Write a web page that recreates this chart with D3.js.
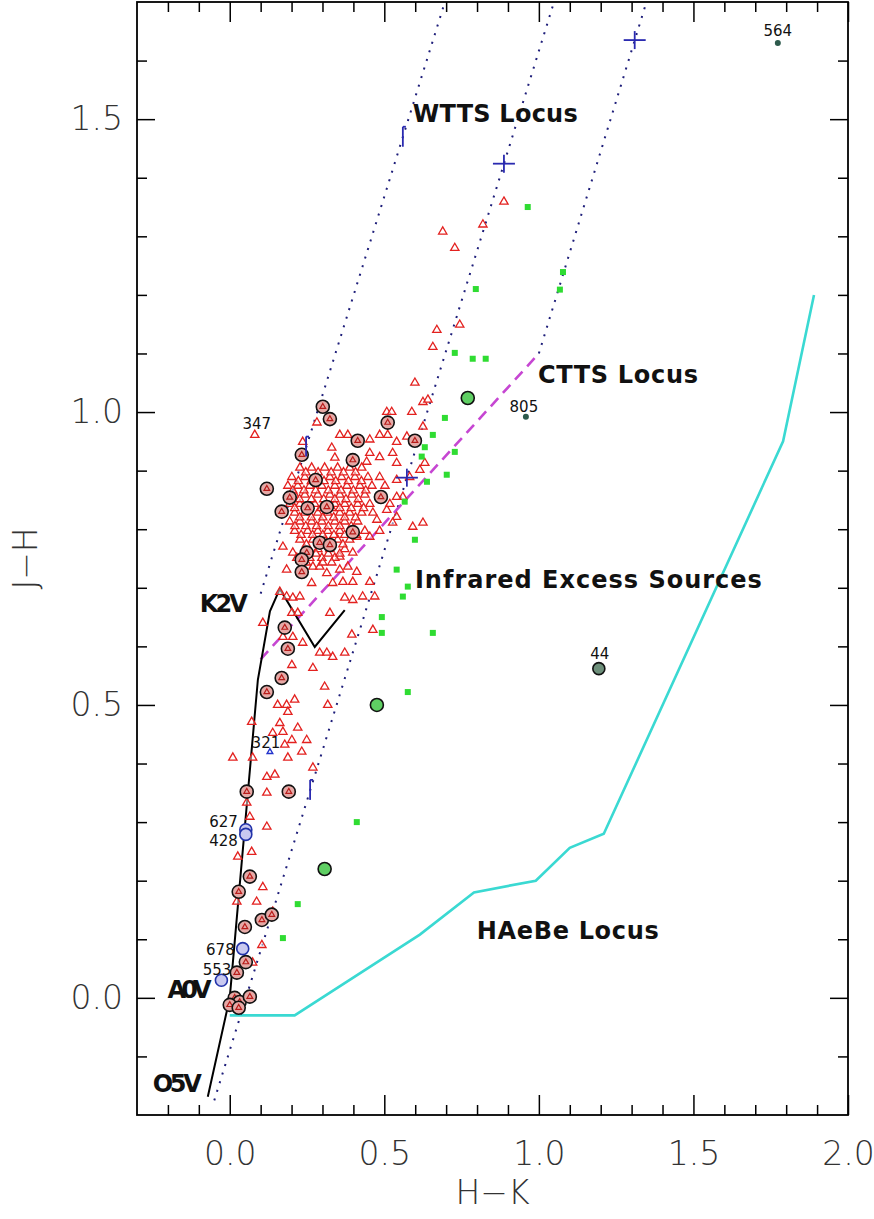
<!DOCTYPE html>
<html>
<head>
<meta charset="utf-8">
<script src="https://cdn.jsdelivr.net/npm/d3@7"></script>
<style>
  body { margin: 0; background: #fff; }
  svg { display: block; }
</style>
</head>
<body>
<svg id="chart" width="874" height="1219"></svg>
<script>
// ---- data (H-K, J-H) ----
const xMajor = [0.0, 0.5, 1.0, 1.5, 2.0];
const yMajor = [0.0, 0.5, 1.0, 1.5];

// intrinsic dwarf sequence, O5V -> A0V -> K2V -> M
const mainSequence = [[-0.071, -0.169], [0.0, 0.0], [0.091, 0.543], [0.13, 0.66],
    [0.162, 0.698], [0.275, 0.599], [0.372, 0.662]];
const cttsLocus = [[0.10, 0.578], [1.0, 1.10]];
const haebeLocus = [[0.0, -0.03], [0.21, -0.03], [0.615, 0.108], [0.79, 0.18], [0.99, 0.20],
    [1.10, 0.256], [1.21, 0.28], [1.79, 0.95], [1.89, 1.20]];
// reddening vectors (start, end)
const reddeningLines = [
    [[0.10, 0.69], [0.696, 1.70]],
    [[-0.05, -0.175], [1.049, 1.70]],
    [[1.0, 1.10], [1.348, 1.70]]
];
const reddeningMarks = [
    {x: 0.247, y: 0.941, kind: "bar"}, {x: 0.56, y: 1.47, kind: "bar"},
    {x: 0.26, y: 0.355, kind: "bar"}, {x: 0.573, y: 0.888, kind: "plus"},
    {x: 0.887, y: 1.424, kind: "plus"}, {x: 1.31, y: 1.635, kind: "plus"}
];

// PMS candidates (red triangles)
const ysoTriangles = [
    [0.887, 1.359], [0.819, 1.320], [0.689, 1.308], [0.728, 1.280], [0.744, 1.149], [0.670, 1.140],
    [0.657, 1.111], [0.599, 1.050], [0.625, 1.017], [0.641, 1.021], [0.508, 1.000], [0.524, 1.000],
    [0.589, 1.000], [0.573, 0.958], [0.081, 0.961], [0.282, 0.982], [0.236, 0.949], [0.356, 0.961],
    [0.382, 0.961], [0.453, 0.953], [0.485, 0.961], [0.511, 0.961], [0.540, 0.949], [0.625, 0.975],
    [0.330, 0.939], [0.453, 0.930], [0.485, 0.923], [0.527, 0.930], [0.340, 0.922], [0.443, 0.915],
    [0.540, 0.913], [0.582, 0.889], [0.615, 0.901], [0.631, 0.913], [0.540, 0.884], [0.560, 0.855],
    [0.540, 0.855], [0.540, 0.821], [0.508, 0.833], [0.476, 0.816], [0.592, 0.804], [0.625, 0.811],
    [0.527, 0.811], [0.411, 0.787], [0.453, 0.787], [0.356, 0.753], [0.398, 0.760], [0.172, 0.770],
    [0.204, 0.760], [0.184, 0.731], [0.227, 0.731], [0.265, 0.708], [0.333, 0.708], [0.366, 0.710],
    [0.398, 0.710], [0.453, 0.710], [0.356, 0.731], [0.411, 0.727], [0.314, 0.725], [0.372, 0.683],
    [0.398, 0.679], [0.430, 0.685], [0.469, 0.685], [0.184, 0.685], [0.204, 0.683], [0.227, 0.685],
    [0.162, 0.693], [0.324, 0.657], [0.395, 0.620], [0.463, 0.628], [0.201, 0.657], [0.220, 0.657],
    [0.107, 0.640], [0.204, 0.616], [0.236, 0.606], [0.291, 0.589], [0.314, 0.589], [0.333, 0.582],
    [0.372, 0.589], [0.172, 0.616], [0.201, 0.568], [0.269, 0.563],
    // dense core
    [0.227, 0.905], [0.265, 0.905], [0.307, 0.905], [0.349, 0.905], [0.388, 0.905], [0.427, 0.905],
    [0.201, 0.889], [0.243, 0.889], [0.285, 0.889], [0.324, 0.889], [0.362, 0.889], [0.405, 0.889],
    [0.447, 0.889], [0.485, 0.889],
    [0.188, 0.874], [0.220, 0.874], [0.259, 0.874], [0.298, 0.874], [0.340, 0.874], [0.379, 0.874],
    [0.421, 0.874], [0.460, 0.874], [0.502, 0.874],
    [0.210, 0.859], [0.243, 0.859], [0.285, 0.859], [0.324, 0.859], [0.356, 0.859], [0.395, 0.859],
    [0.437, 0.859],
    [0.194, 0.843], [0.227, 0.843], [0.275, 0.843], [0.340, 0.843], [0.372, 0.843], [0.414, 0.843],
    [0.453, 0.843], [0.518, 0.843],
    [0.210, 0.828], [0.243, 0.828], [0.285, 0.828], [0.317, 0.828], [0.356, 0.828], [0.388, 0.828],
    [0.427, 0.828], [0.463, 0.828],
    [0.194, 0.813], [0.227, 0.813], [0.265, 0.813], [0.298, 0.813], [0.340, 0.813], [0.372, 0.813],
    [0.414, 0.813],
    [0.210, 0.797], [0.252, 0.797], [0.285, 0.797], [0.317, 0.797], [0.356, 0.797], [0.437, 0.797],
    [0.485, 0.797],
    [0.227, 0.782], [0.269, 0.782], [0.307, 0.782], [0.349, 0.782], [0.388, 0.782],
    [0.243, 0.766], [0.285, 0.766], [0.324, 0.766], [0.372, 0.766],
    [0.217, 0.751], [0.259, 0.751], [0.298, 0.751], [0.340, 0.751],
    [0.269, 0.736], [0.291, 0.736], [0.382, 0.736],
    [0.246, 0.897], [0.286, 0.897], [0.328, 0.897], [0.368, 0.897], [0.407, 0.897],
    [0.222, 0.882], [0.264, 0.882], [0.305, 0.882], [0.343, 0.882], [0.384, 0.882], [0.426, 0.882],
    [0.204, 0.866], [0.240, 0.866], [0.278, 0.866], [0.319, 0.866], [0.360, 0.866], [0.400, 0.866],
    [0.440, 0.866],
    [0.226, 0.851], [0.264, 0.851], [0.304, 0.851], [0.340, 0.851], [0.376, 0.851], [0.416, 0.851],
    [0.210, 0.836], [0.251, 0.836], [0.296, 0.836], [0.330, 0.836], [0.356, 0.836], [0.393, 0.836],
    [0.433, 0.836],
    [0.226, 0.820], [0.264, 0.820], [0.301, 0.820], [0.336, 0.820], [0.372, 0.820], [0.407, 0.820],
    [0.211, 0.805], [0.246, 0.805], [0.281, 0.805], [0.319, 0.805], [0.356, 0.805], [0.393, 0.805],
    [0.231, 0.790], [0.268, 0.790], [0.301, 0.790], [0.337, 0.790], [0.372, 0.790], [0.410, 0.790],
    [0.248, 0.774], [0.288, 0.774], [0.328, 0.774], [0.366, 0.774],
    [0.238, 0.758], [0.279, 0.758], [0.319, 0.758], [0.356, 0.758],
    [0.248, 0.743], [0.301, 0.743], [0.330, 0.743],
    // lower part
    [0.155, 0.500], [0.184, 0.500], [0.210, 0.509], [0.188, 0.488], [0.307, 0.531], [0.317, 0.500],
    [0.071, 0.471], [0.162, 0.469], [0.220, 0.461], [0.139, 0.452], [0.172, 0.454], [0.201, 0.440],
    [0.249, 0.440], [0.178, 0.432], [0.233, 0.420], [0.188, 0.410], [0.010, 0.410], [0.074, 0.410],
    [0.120, 0.377], [0.146, 0.381], [0.269, 0.393], [0.120, 0.350], [0.055, 0.333], [0.065, 0.309],
    [0.120, 0.292], [0.071, 0.249], [0.026, 0.241], [0.107, 0.189], [0.087, 0.164], [0.023, 0.164],
    [0.139, 0.147], [0.104, 0.090], [0.074, 0.060]
];

// circled sources (black rings)
const circled = [
    [0.301, 1.009], [0.324, 0.988], [0.414, 0.951], [0.511, 0.982], [0.599, 0.951], [0.233, 0.927],
    [0.398, 0.918], [0.120, 0.869], [0.278, 0.884], [0.194, 0.854], [0.168, 0.830], [0.252, 0.836],
    [0.314, 0.838], [0.489, 0.855], [0.398, 0.795], [0.291, 0.777], [0.324, 0.773], [0.249, 0.760],
    [0.233, 0.748], [0.233, 0.727], [0.178, 0.632], [0.188, 0.596], [0.168, 0.546], [0.120, 0.522],
    [0.055, 0.352], [0.191, 0.352], [0.065, 0.207], [0.029, 0.181], [0.049, 0.121], [0.104, 0.133],
    [0.136, 0.142], [0.052, 0.061], [0.023, 0.043], [0.016, 0.000], [0.032, -0.007], [0.000, -0.012],
    [0.065, 0.002], [0.029, -0.017]
];

// infrared excess sources (green)
const excessSources = [
    [0.964, 1.350], [1.078, 1.239], [1.068, 1.209], [0.796, 1.210], [0.728, 1.101], [0.786, 1.091],
    [0.828, 1.091], [0.696, 0.990], [0.657, 0.961], [0.631, 0.940], [0.621, 0.924], [0.728, 0.932],
    [0.702, 0.893], [0.638, 0.881], [0.566, 0.847], [0.599, 0.782], [0.540, 0.731], [0.576, 0.702],
    [0.560, 0.685], [0.492, 0.650], [0.492, 0.623], [0.657, 0.623], [0.576, 0.522], [0.411, 0.300],
    [0.220, 0.160], [0.172, 0.102]
];
const excessCircled = [[0.770, 1.024], [0.476, 0.500], [0.307, 0.220]];

// labelled sources
const namedSources = [
    {id: "564", x: 1.773, y: 1.630, kind: "dark"},
    {id: "805", x: 0.958, y: 0.992, kind: "dark"},
    {id: "44", x: 1.194, y: 0.562, kind: "darkRing"},
    {id: "347", x: 0.081, y: 0.961, kind: "none"},
    {id: "321", x: 0.130, y: 0.420, kind: "blueTriangle"},
    {id: "627", x: 0.052, y: 0.287, kind: "blueRing"},
    {id: "428", x: 0.052, y: 0.279, kind: "blueRing"},
    {id: "678", x: 0.042, y: 0.084, kind: "blueRing"},
    {id: "553", x: -0.027, y: 0.030, kind: "blueRing"}
];

const annotations = [
    {text: "WTTS Locus", x: 0.592, y: 1.495},
    {text: "CTTS Locus", x: 0.997, y: 1.050},
    {text: "Infrared Excess Sources", x: 0.599, y: 0.700},
    {text: "HAeBe Locus", x: 0.799, y: 0.101},
    {text: "K2V", x: -0.097, y: 0.659},
    {text: "A0V", x: -0.201, y: 0.0},
    {text: "O5V", x: -0.249, y: -0.160}
];

// ---- layout ----
const svg = d3.select("#chart");
const plotLeft = 137, plotRight = 848, plotTop = 2, plotBottom = 1115;

const x = d3.scaleLinear().domain([-0.3, 2.0]).range([plotLeft, plotRight]);
const y = d3.scaleLinear().domain([-0.2, 1.7]).range([plotBottom, plotTop]);

const minorX = d3.range(-0.2, 2.0, 0.1).map(v => +v.toFixed(1)).filter(v => !xMajor.includes(v));
const minorY = d3.range(-0.1, 1.7, 0.1).map(v => +v.toFixed(1)).filter(v => !yMajor.includes(v));

const labelFont = "'DejaVu Sans', sans-serif";

svg.append("defs").append("clipPath").attr("id", "plot-clip")
    .append("rect")
    .attr("x", plotLeft).attr("y", plotTop)
    .attr("width", plotRight - plotLeft).attr("height", plotBottom - plotTop);

// Axes: ticks inward on all four sides
function styleAxis(g) {
    g.select(".domain").remove();
    g.selectAll(".tick line").attr("stroke", "#000").attr("stroke-width", 1.5);
}

svg.append("g").attr("transform", `translate(0,${plotBottom})`)
    .call(d3.axisBottom(x).tickValues(xMajor).tickSize(-20).tickPadding(27).tickFormat(d3.format(".1f")))
    .call(styleAxis)
    .call(g => g.selectAll("text")
        .attr("font-family", labelFont).attr("font-weight", 300)
        .attr("font-size", 33).attr("fill", "#333"));
svg.append("g").attr("transform", `translate(0,${plotBottom})`)
    .call(d3.axisBottom(x).tickValues(minorX).tickSize(-10).tickFormat(""))
    .call(styleAxis);

svg.append("g").attr("transform", `translate(0,${plotTop})`)
    .call(d3.axisTop(x).tickValues(xMajor).tickSize(-20).tickFormat(""))
    .call(styleAxis);
svg.append("g").attr("transform", `translate(0,${plotTop})`)
    .call(d3.axisTop(x).tickValues(minorX).tickSize(-10).tickFormat(""))
    .call(styleAxis);

svg.append("g").attr("transform", `translate(${plotLeft},0)`)
    .call(d3.axisLeft(y).tickValues(yMajor).tickSize(-18).tickPadding(14).tickFormat(d3.format(".1f")))
    .call(styleAxis)
    .call(g => g.selectAll("text")
        .attr("font-family", labelFont).attr("font-weight", 300)
        .attr("font-size", 33).attr("fill", "#333"));
svg.append("g").attr("transform", `translate(${plotLeft},0)`)
    .call(d3.axisLeft(y).tickValues(minorY).tickSize(-10).tickFormat(""))
    .call(styleAxis);

svg.append("g").attr("transform", `translate(${plotRight},0)`)
    .call(d3.axisRight(y).tickValues(yMajor).tickSize(-18).tickFormat(""))
    .call(styleAxis);
svg.append("g").attr("transform", `translate(${plotRight},0)`)
    .call(d3.axisRight(y).tickValues(minorY).tickSize(-10).tickFormat(""))
    .call(styleAxis);

// Axis titles
svg.append("text")
    .attr("x", (plotLeft + plotRight) / 2).attr("y", 1204)
    .attr("text-anchor", "middle")
    .attr("font-family", labelFont).attr("font-weight", 300)
    .attr("font-size", 33).attr("fill", "#333")
    .text("H\u2212K");

svg.append("text")
    .attr("transform", `translate(37,${(plotTop + plotBottom) / 2}) rotate(-90)`)
    .attr("text-anchor", "middle")
    .attr("font-family", labelFont).attr("font-weight", 300)
    .attr("font-size", 33).attr("fill", "#333")
    .text("J\u2212H");

// ---- curves ----
const plot = svg.append("g").attr("clip-path", "url(#plot-clip)");
const line = d3.line().x(d => x(d[0])).y(d => y(d[1]));

plot.append("path").datum(haebeLocus)
    .attr("d", line).attr("fill", "none")
    .attr("stroke", "#3ad9d2").attr("stroke-width", 2.6);

reddeningLines.forEach(seg => {
    plot.append("path").datum(seg)
        .attr("d", line).attr("fill", "none")
        .attr("stroke", "#1e1e7a").attr("stroke-width", 2)
        .attr("stroke-dasharray", "2 7");
});

plot.append("path").datum(cttsLocus)
    .attr("d", line).attr("fill", "none")
    .attr("stroke", "#c646d2").attr("stroke-width", 2.6)
    .attr("stroke-dasharray", "11 7");

plot.append("path").datum(mainSequence)
    .attr("d", line).attr("fill", "none")
    .attr("stroke", "#000").attr("stroke-width", 2);

// ---- points ----
const tri = d3.symbol(d3.symbolTriangle, 30);
const smallTri = d3.symbol(d3.symbolTriangle, 14);

plot.append("g").selectAll("path")
    .data(ysoTriangles)
    .join("path")
    .attr("transform", d => `translate(${x(d[0])},${y(d[1])})`)
    .attr("d", tri)
    .attr("fill", "rgba(255,255,255,0.5)")
    .attr("stroke", "#e3211f").attr("stroke-width", 1.3);

const rings = plot.append("g").selectAll("g")
    .data(circled)
    .join("g")
    .attr("transform", d => `translate(${x(d[0])},${y(d[1])})`);
rings.append("circle").attr("r", 6.5)
    .attr("fill", "#e6a9a6").attr("stroke", "#111").attr("stroke-width", 1.6);
rings.append("path").attr("d", smallTri)
    .attr("fill", "none").attr("stroke", "#b81c1a").attr("stroke-width", 1.2);

plot.append("g").selectAll("rect")
    .data(excessSources)
    .join("rect")
    .attr("x", d => x(d[0]) - 3).attr("y", d => y(d[1]) - 3)
    .attr("width", 6).attr("height", 6)
    .attr("fill", "#2fdc32");

plot.append("g").selectAll("circle")
    .data(excessCircled)
    .join("circle")
    .attr("cx", d => x(d[0])).attr("cy", d => y(d[1]))
    .attr("r", 6.5)
    .attr("fill", "#5fcf63").attr("stroke", "#111").attr("stroke-width", 1.6);

// reddening marks
reddeningMarks.forEach(m => {
    const g = plot.append("g").attr("transform", `translate(${x(m.x)},${y(m.y)})`)
        .attr("stroke", "#2a2ab0").attr("stroke-width", 1.8).attr("fill", "none");
    if (m.kind === "plus") {
        g.append("line").attr("x1", -11).attr("x2", 11).attr("y1", 0).attr("y2", 0);
        g.append("line").attr("x1", 0).attr("x2", 0).attr("y1", -9).attr("y2", 9);
    } else {
        g.append("line").attr("x1", 0).attr("x2", 0).attr("y1", -10).attr("y2", 10);
        g.append("line").attr("x1", 0).attr("x2", 3).attr("y1", -10).attr("y2", -10);
    }
});

// named sources
const placement = {
    "564": {dx: 0, dy: -7, anchor: "middle"},
    "805": {dx: -2, dy: -5, anchor: "middle"},
    "44": {dx: 1, dy: -10, anchor: "middle"},
    "347": {dx: 2, dy: -6, anchor: "middle"},
    "321": {dx: -4, dy: -4, anchor: "middle"},
    "627": {dx: -8, dy: -3, anchor: "end"},
    "428": {dx: -8, dy: 12, anchor: "end"},
    "678": {dx: -8, dy: 6, anchor: "end"},
    "553": {dx: 10, dy: -5, anchor: "end"}
};

namedSources.forEach(s => {
    const cx = x(s.x), cy = y(s.y);
    if (s.kind === "dark") {
        plot.append("circle").attr("cx", cx).attr("cy", cy).attr("r", 3)
            .attr("fill", "#2d5a4c");
    } else if (s.kind === "darkRing") {
        plot.append("circle").attr("cx", cx).attr("cy", cy).attr("r", 6)
            .attr("fill", "#6d8f7a").attr("stroke", "#111").attr("stroke-width", 1.6);
    } else if (s.kind === "blueTriangle") {
        plot.append("path").attr("transform", `translate(${cx},${cy})`)
            .attr("d", smallTri).attr("fill", "none")
            .attr("stroke", "#2233cc").attr("stroke-width", 1.4);
    } else if (s.kind === "blueRing") {
        plot.append("circle").attr("cx", cx).attr("cy", cy).attr("r", 6)
            .attr("fill", "#c9c9f0").attr("stroke", "#2233aa").attr("stroke-width", 1.6);
    }
    const p = placement[s.id];
    svg.append("text")
        .attr("x", cx + p.dx).attr("y", cy + p.dy)
        .attr("text-anchor", p.anchor)
        .attr("font-family", labelFont).attr("font-size", 15)
        .attr("fill", "#111")
        .text(s.id);
});

// ---- annotations ----
const annotationWidth = {
    "WTTS Locus": 165, "CTTS Locus": 160, "Infrared Excess Sources": 347,
    "HAeBe Locus": 182, "K2V": 48, "A0V": 44, "O5V": 49
};
svg.append("g").selectAll("text")
    .data(annotations)
    .join("text")
    .attr("x", d => x(d.x)).attr("y", d => y(d.y))
    .attr("font-family", labelFont).attr("font-weight", "bold")
    .attr("font-size", 24).attr("fill", "#111")
    .attr("textLength", d => annotationWidth[d.text])
    .attr("lengthAdjust", "spacing")
    .text(d => d.text);

// frame
svg.append("rect")
    .attr("x", plotLeft).attr("y", plotTop)
    .attr("width", plotRight - plotLeft).attr("height", plotBottom - plotTop)
    .attr("fill", "none").attr("stroke", "#000").attr("stroke-width", 1.8);
</script>
</body>
</html>
